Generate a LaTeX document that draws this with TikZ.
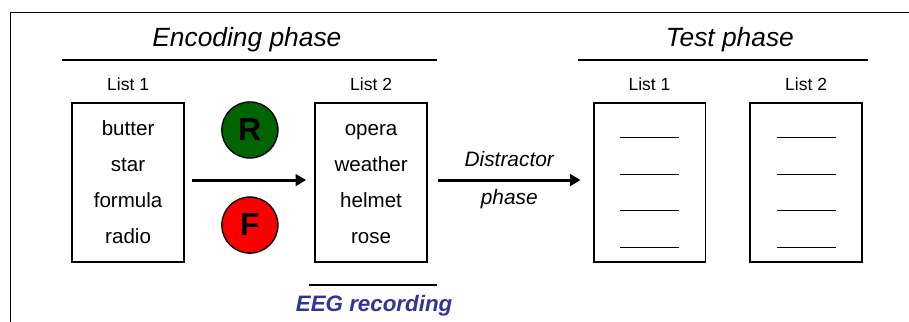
\documentclass[tikz,border=0pt]{standalone}
\usepackage{fontspec}
\setmainfont{Liberation Sans}
\usepackage{tikz}
\usetikzlibrary{arrows.meta, positioning, calc}
\definecolor{cuegreen}{RGB}{0,100,0}
\definecolor{cuered}{RGB}{250,0,0}
\definecolor{eegblue}{RGB}{51,51,153}
\tikzset{
  listbox/.style={rectangle, draw=black, minimum width=3.73cm,
    minimum height=5.3cm, line width=1.8pt},
  listlabel/.style={anchor=base, font=\fontsize{16.6}{20}\selectfont},
  word/.style={anchor=base, font=\fontsize{19.5}{23}\selectfont},
  cue/.style={circle, draw=black, line width=1.3pt, minimum size=1.87cm,
    inner sep=0pt, font=\fontsize{30}{34}\selectfont\bfseries},
  phasetitle/.style={anchor=base, font=\fontsize{25}{30}\selectfont\itshape},
  bar/.style={line width=2.8pt},
  arrow/.style={-{Triangle[length=10pt,width=11pt]}, line width=2.8pt},
  blank/.style={line width=0.9pt}
}

\begin{document}
\begin{tikzpicture}
  \useasboundingbox (0,0) rectangle (30.3,10.733);
  \draw[line width=0.9pt] (0.333,0) -- (0.333,10.333) -- (30.3,10.333);

  % encoding phase
  \node[phasetitle] (enctitle) at (8.23,9.167) {Encoding phase};
  \draw[bar] (2.07,8.733) -- (14.57,8.733);
  \node[listbox] (enc1) at (4.27,4.65) {};
  \node[listbox] (enc2) at (12.37,4.65) {};
  \node[listlabel] (enc1lbl) at ([yshift=0.4cm]enc1.north) {List 1};
  \node[listlabel] (enc2lbl) at ([yshift=0.4cm]enc2.north) {List 2};
  \foreach \w [count=\i] in {butter,star,formula,radio}
    \node[word] (a\i) at ($(enc1.center)+(0,{1.55-1.2*(\i-1)})$) {\w};
  \foreach \w [count=\i] in {opera,weather,helmet,rose}
    \node[word] (b\i) at ($(enc2.center)+(0,{1.55-1.2*(\i-1)})$) {\w};

  \node[cue, fill=cuegreen] (rcue) at (8.33,6.4) {R};
  \node[cue, fill=cuered] (fcue) at (8.33,3.23) {F};
  \draw[arrow] ([xshift=0.23cm,yshift=0.08cm]enc1.east) -- ([xshift=-0.27cm,yshift=0.08cm]enc2.west);

  \draw[bar] (10.3,1.233) -- (14.57,1.233);
  \node[anchor=base, text=eegblue, font=\fontsize{21.2}{25}\selectfont\bfseries\itshape]
    (eeg) at (12.47,0.333) {EEG recording};

  % test phase
  \node[phasetitle] (testtitle) at (24.33,9.167) {Test phase};
  \draw[bar] (19.27,8.733) -- (28.93,8.733);
  \node[listbox] (test1) at (21.65,4.65) {};
  \node[listbox] (test2) at (26.87,4.65) {};
  \node[listlabel] (test1lbl) at ([yshift=0.4cm]test1.north) {List 1};
  \node[listlabel] (test2lbl) at ([yshift=0.4cm]test2.north) {List 2};
  \foreach \b in {test1,test2}
    \foreach \k in {0,...,3}
      \draw[blank] ($(\b.center)+(-0.98,{1.5-1.22*\k})$) -- ($(\b.center)+(0.98,{1.5-1.22*\k})$);

  \draw[arrow] ([xshift=0.33cm,yshift=0.08cm]enc2.east) -- ([xshift=-0.4cm,yshift=0.08cm]test1.west)
    node[pos=0.5, anchor=base, yshift=0.444cm, word, font=\fontsize{19.8}{23}\selectfont\itshape] (distr) {Distractor}
    node[pos=0.5, anchor=base, yshift=-0.8cm, word, font=\fontsize{19.8}{23}\selectfont\itshape] (dphase) {phase};
\end{tikzpicture}
\end{document}
